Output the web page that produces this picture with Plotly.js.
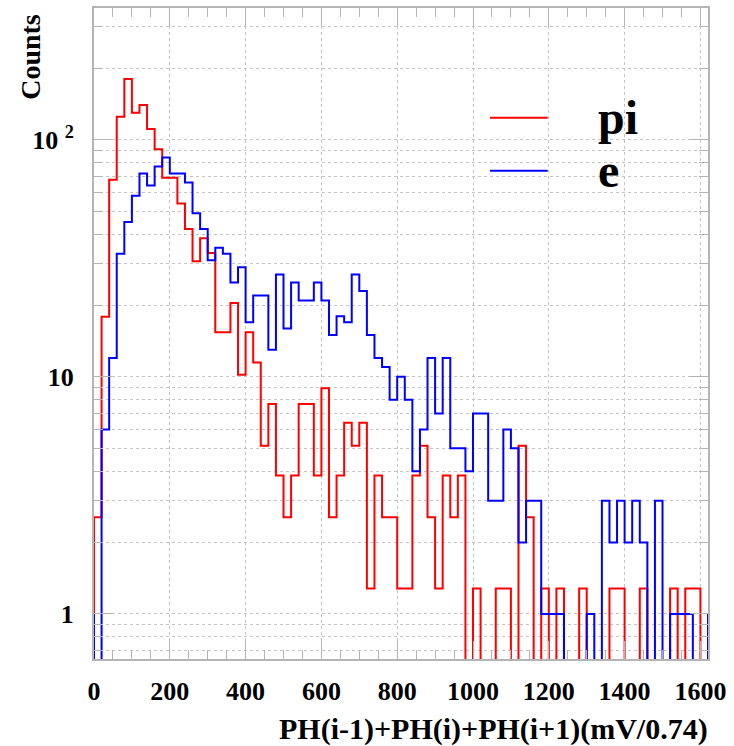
<!DOCTYPE html>
<html><head><meta charset="utf-8">
<script src="https://cdn.plot.ly/plotly-3.0.1.min.js"></script>
<style>html,body{margin:0;padding:0;background:#fff}#chart{width:734px;height:746px}</style>
</head><body><div id="chart"></div>
<script>
// ---- data ----
const binWidth = 20;          // histogram bin width (mV/0.74)
const firstBinLow = -20;      // first entry is the bin just left of the frame
const seriesNames = ['pi', 'e'];
const xTickValues = [0, 200, 400, 600, 800, 1000, 1200, 1400, 1600];
const yTickValues = [1, 10, 100];
const yTickLabels = ['1', '10', '10 <sup>2</sup>'];
const xTitle = 'PH(i-1)+PH(i)+PH(i+1)(mV/0.74)';
const yTitle = 'Counts';

// pi (red) bin contents, bins -20..1640
const piCounts = [
  0,
  2.56, 17.9, 67.8, 125, 180, 130, 140, 111, 91, 69,
  69, 53.8, 42, 30.7, 38.4, 33.3, 15.4, 15.4, 20.5, 10.2,
  15.4, 11.5, 5.12, 7.68, 3.84, 2.56, 3.84, 7.68, 7.68, 3.84,
  8.96, 2.56, 3.84, 6.4, 5.12, 6.4, 1.28, 3.84, 2.56, 2.56,
  1.28, 1.28, 3.84, 5.12, 2.56, 1.28, 3.84, 2.56, 3.84, 0,
  1.28, 0, 0, 1.28, 1.28, 0, 5.12, 2.56, 0, 1.28,
  0, 1.28, 0, 0, 1.28, 0, 0, 0, 1.28, 1.28,
  0, 0, 1.28, 0, 0, 0, 1.28, 0, 1.28, 1.28,
  0,
  0
];
// e (blue) bin contents, bins -20..1640
const eCounts = [
  1,
  0, 6, 12, 33, 45, 58, 72, 64, 77, 84,
  72, 72, 66, 49, 42, 31, 35, 33, 25, 29,
  17, 22, 22, 13, 27, 16, 25, 21, 21, 25,
  21, 15, 18, 17, 27, 23, 15, 12, 11, 8,
  10, 8, 4, 6, 12, 7, 12, 5, 5, 4,
  7, 7, 3, 3, 6, 5, 2, 3, 3, 1,
  1, 1, 0, 0, 0, 1, 0, 3, 2, 3,
  2, 3, 2, 0, 3, 0, 1, 1, 1, 0,
  0,
  1
];

// ---- build step traces ----
function stepTrace(counts, color, name) {
  const x = [], y = [];
  const floorVal = 0.01; // empty bins drop below the log axis
  counts.forEach((c, i) => {
    x.push(firstBinLow + i * binWidth);
    y.push(c > 0 ? c : floorVal);
  });
  x.push(firstBinLow + counts.length * binWidth);
  y.push(y[y.length - 1]);
  return {
    type: 'scatter', mode: 'lines', x: x, y: y, name: name,
    line: {shape: 'hv', color: color, width: 2},
    showlegend: false, hoverinfo: 'skip'
  };
}

const frameColor = '#b4b4b4';
const gridColor = '#c4c4c4';
const fam = 'Liberation Serif, Times New Roman, serif';
const font = {family: fam, size: 26, color: '#000', weight: 'bold'};

const xMinor = [];
for (let v = 50; v < 1620; v += 50) if (v % 200 !== 0) xMinor.push(v);
const yMinor = [0.7, 0.8, 0.9, 2, 3, 4, 5, 6, 7, 8, 9, 20, 30, 40, 50, 60, 70, 80, 90, 200, 300];

const data = [
  stepTrace(piCounts, '#ff0000', seriesNames[0]),
  stepTrace(eCounts, '#0000ff', seriesNames[1])
];

const layout = {
  width: 734, height: 746,
  margin: {l: 94, r: 26, t: 8, b: 87},
  paper_bgcolor: '#fff', plot_bgcolor: '#fff',
  showlegend: false,
  xaxis: {
    range: [0, 1620], tickmode: 'array', tickvals: xTickValues,
    ticks: 'inside', ticklen: 18, tickwidth: 1, tickcolor: frameColor,
    showline: true, linecolor: frameColor, linewidth: 2, mirror: 'allticks',
    showgrid: true, gridcolor: gridColor, griddash: 'dot', gridwidth: 1,
    zeroline: false, tickfont: font, ticklabelstandoff: 8,
    minor: {tickmode: 'array', tickvals: xMinor, ticks: 'inside', ticklen: 9, tickcolor: frameColor, showgrid: false}
  },
  yaxis: {
    type: 'log', range: [Math.log10(0.646), Math.log10(359)],
    tickmode: 'array', tickvals: yTickValues, ticktext: yTickLabels,
    ticks: 'inside', ticklen: 18, tickwidth: 1, tickcolor: frameColor,
    showline: true, linecolor: frameColor, linewidth: 2, mirror: 'allticks',
    showgrid: true, gridcolor: gridColor, griddash: 'dot', gridwidth: 1,
    zeroline: false, tickfont: font, ticklabelstandoff: 13,
    minor: {tickmode: 'array', tickvals: yMinor, ticks: 'inside', ticklen: 9, tickcolor: frameColor,
            showgrid: true, gridcolor: gridColor, griddash: 'dot', gridwidth: 1}
  },
  shapes: [
    {type: 'line', xref: 'paper', yref: 'paper', x0: 0.645, x1: 0.739, y0: 0.8315, y1: 0.8315,
     line: {color: '#ff0000', width: 2}},
    {type: 'line', xref: 'paper', yref: 'paper', x0: 0.645, x1: 0.739, y0: 0.750, y1: 0.750,
     line: {color: '#0000ff', width: 2}}
  ],
  annotations: [
    {text: seriesNames[0], xref: 'paper', yref: 'paper', x: 0.818, y: 0.8315, xanchor: 'left', yanchor: 'middle',
     showarrow: false, font: {family: fam, size: 48, color: '#000', weight: 'bold'}},
    {text: seriesNames[1], xref: 'paper', yref: 'paper', x: 0.818, y: 0.750, xanchor: 'left', yanchor: 'middle',
     showarrow: false, font: {family: fam, size: 48, color: '#000', weight: 'bold'}},
    {text: xTitle, xref: 'paper', yref: 'paper', x: 1, y: 0, xanchor: 'right', yanchor: 'middle',
     xshift: 2, yshift: -70, showarrow: false, font: {family: fam, size: 30, color: '#000', weight: 'bold'}},
    {text: yTitle, xref: 'paper', yref: 'paper', x: 0, y: 0.925, xanchor: 'center', yanchor: 'middle',
     xshift: -63, textangle: -90, showarrow: false, font: {family: fam, size: 28, color: '#000', weight: 'bold'}}
  ]
};

Plotly.newPlot('chart', data, layout, {displayModeBar: false, staticPlot: true});
</script>
</body></html>
